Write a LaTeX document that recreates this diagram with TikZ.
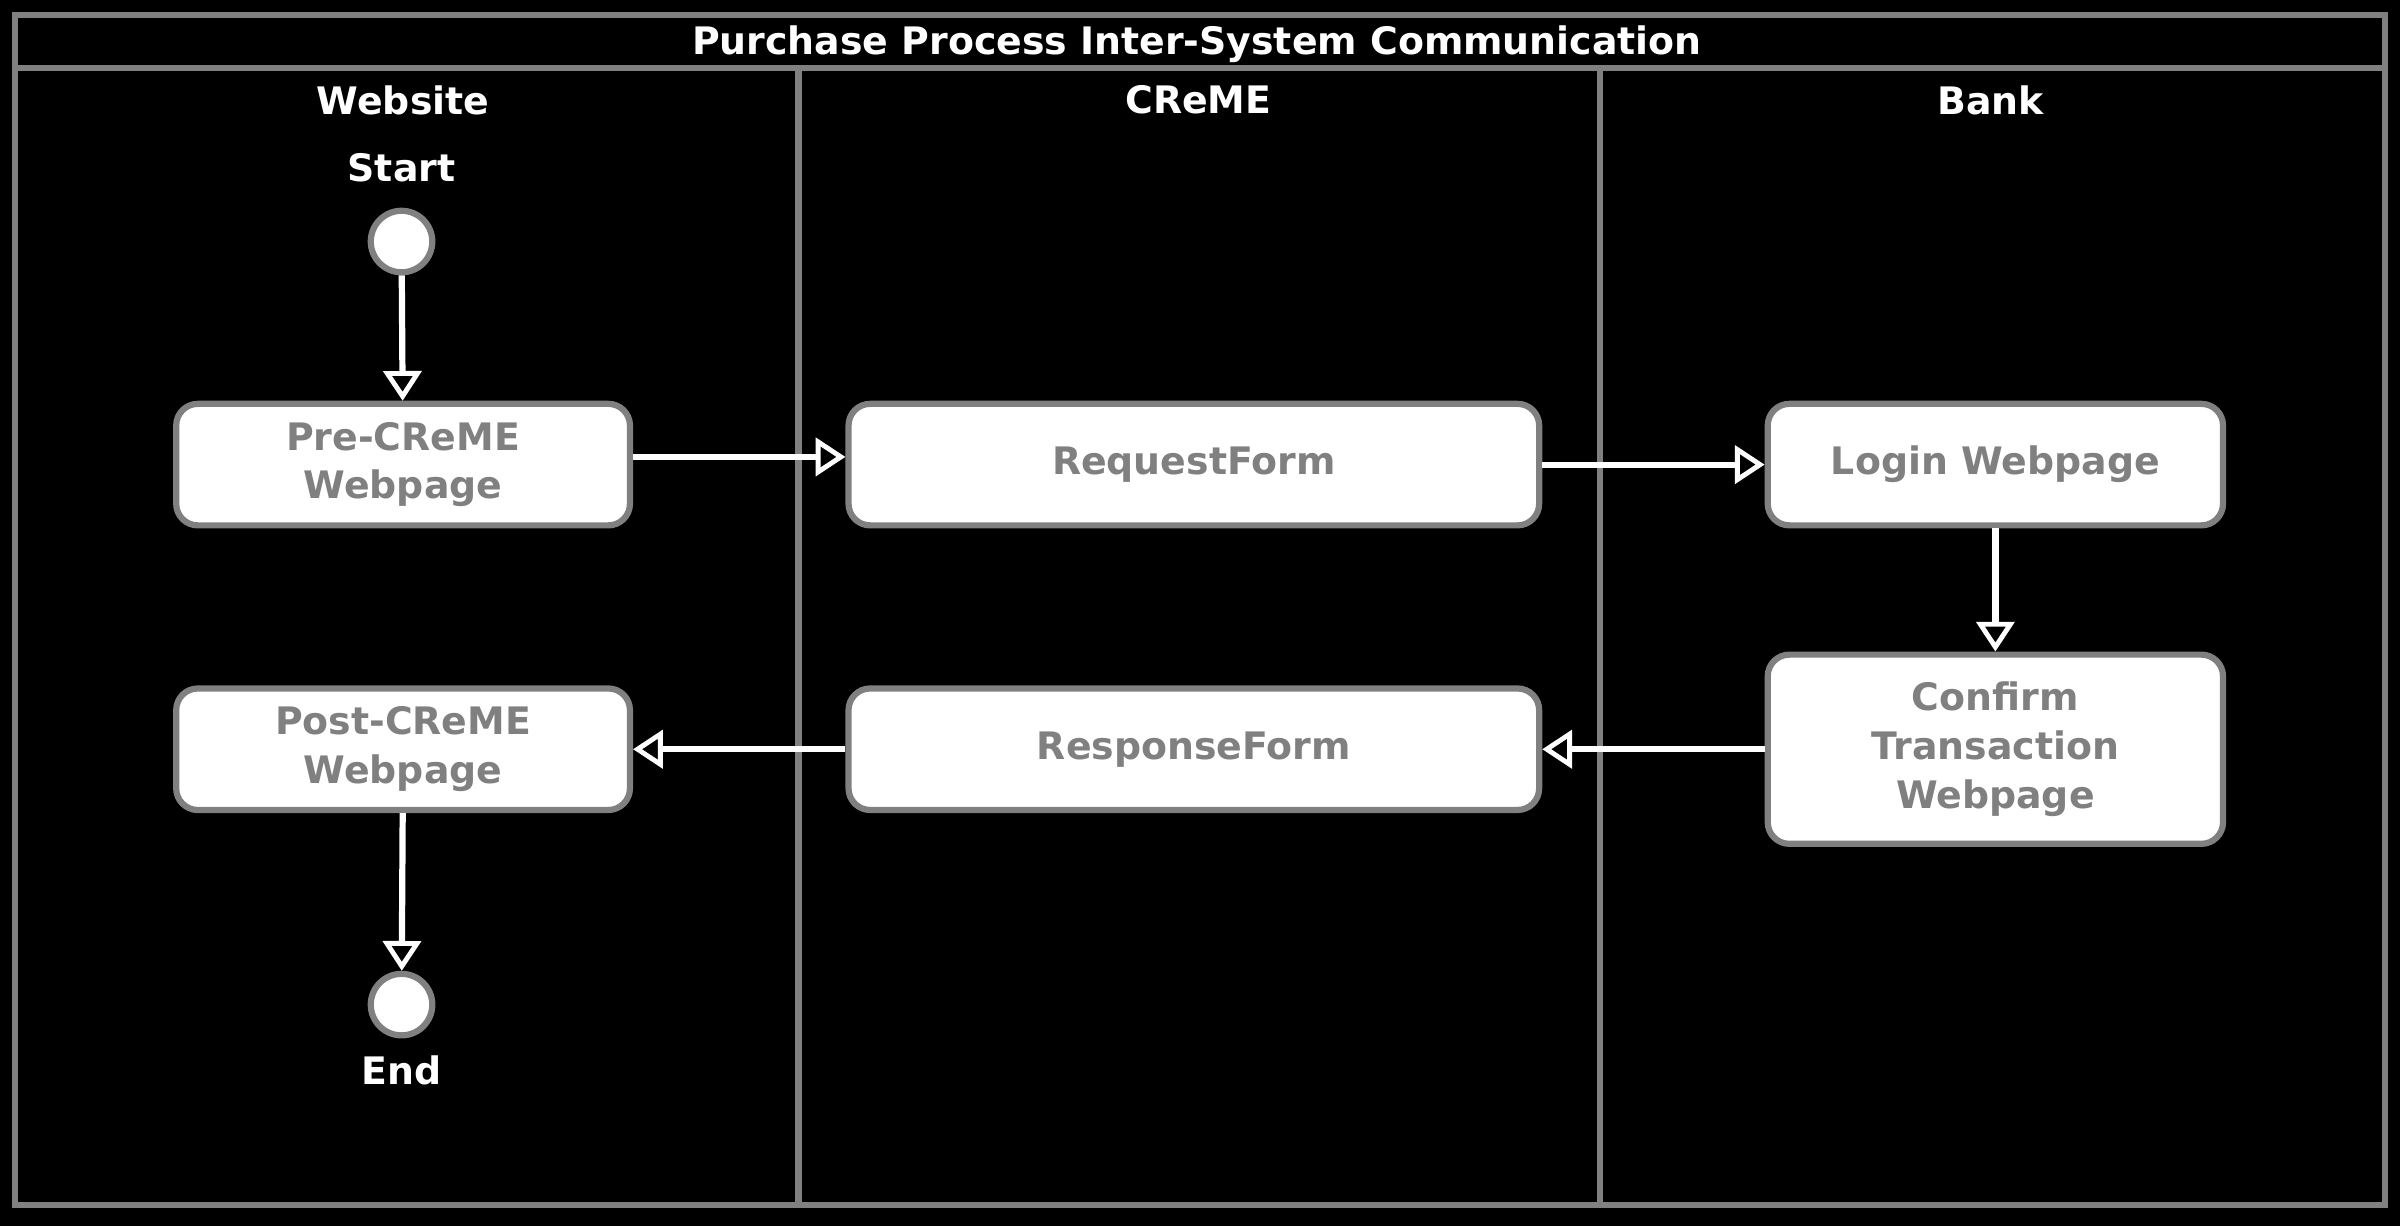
\documentclass[tikz,border=0pt]{standalone}
\usepackage{fontspec}
\setmainfont{DejaVu Sans}
\usetikzlibrary{arrows.meta, positioning}
\definecolor{lanegray}{RGB}{128,128,128}
\begin{document}
\begin{tikzpicture}[
            x = 0.02cm, y = -0.02cm, % pixel-like units
            > = {Triangle[open, length=11pt, width=14pt, line width=1.8pt]},
            flow/.style = {draw = white, line width = 2.3pt, ->},
            lane/.style = {draw = lanegray, line width = 2.3pt},
            act/.style = {draw = lanegray, line width = 2.3pt, fill = white,
                rounded corners = 8pt, text = lanegray, align = center,
                font = \bfseries\fontsize{14}{18}\selectfont},
            term/.style = {circle, draw = lanegray, line width = 2.3pt,
                fill = white, minimum size = 0.8cm, inner sep = 0pt},
            head/.style = {text = white, font = \bfseries\fontsize{14}{16}\selectfont}
        ]

        % frame and swimlanes
        \fill[black] (0,0) rectangle (1560,797);
        \draw[lane] (10,10) rectangle (1550,783);
        \draw[lane] (10,44) -- (1550,44);
        \draw[lane] (519,44) -- (519,783);
        \draw[lane] (1040,44) -- (1040,783);
        \useasboundingbox (0,0) rectangle (1560,797);

        \node[head] (title) at (778,29) {Purchase Process Inter-System Communication};
        \node[head] (website) at (262,65) {Website};
        \node[head] (creme) at (779,65) {CReME};
        \node[head] (bank) at (1294,65) {Bank};

        % activities
        \node[term] (start) at (261,157) {};
        \node[head, above=6pt of start] (startl) {Start};
        \node[act, minimum width=5.9cm, minimum height=1.58cm] (pre) at (262,302) {Pre-CReME\\Webpage};
        \node[act, minimum width=8.98cm, minimum height=1.58cm] (req) at (776,302) {RequestForm};
        \node[act, minimum width=5.92cm, minimum height=1.58cm] (login) at (1297,302) {Login Webpage};
        \node[act, minimum width=5.92cm, minimum height=2.46cm] (confirm) at (1297,487) {Confirm\\Transaction\\Webpage};
        \node[act, minimum width=8.98cm, minimum height=1.58cm] (resp) at (776,487) {ResponseForm};
        \node[act, minimum width=5.9cm, minimum height=1.58cm] (post) at (262,487) {Post-CReME\\Webpage};
        \node[term] (end) at (261,653) {};
        \node[head, below=3pt of end] (endl) {End};

        % flows
        \draw[flow] (start) -- (pre);
        \draw[flow] (pre.east |- 0,297) -- (req.west |- 0,297);
        \draw[flow] (req) -- (login);
        \draw[flow] (login) -- (confirm);
        \draw[flow] (confirm) -- (resp);
        \draw[flow] (resp) -- (post);
        \draw[flow] (post) -- (end);

\end{tikzpicture}
\end{document}
